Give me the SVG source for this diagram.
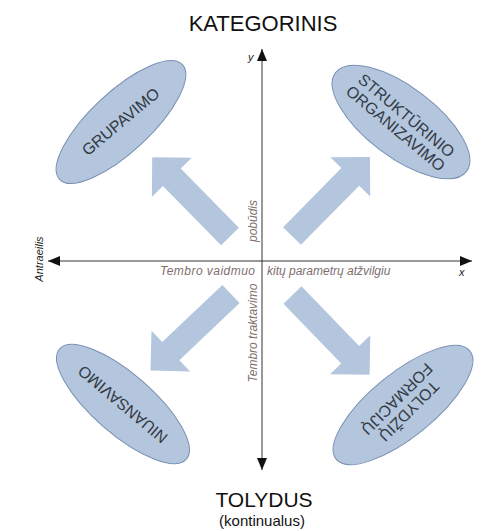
<svg xmlns="http://www.w3.org/2000/svg" width="484" height="531" viewBox="0 0 484 531">
  <style>
    .title { font-family: "Liberation Sans", Arial, sans-serif; fill: #111; }
    .oval { fill: #b4c6dd; stroke: #7890b2; stroke-width: 1; }
    .oval-text { font-family: "Liberation Sans", Arial, sans-serif; font-size: 16px; fill: #333a44; text-anchor: middle; }
    .block { fill: #b4c6dd; }
    .axis { stroke: #333; stroke-width: 1; fill: none; }
    .axis-note { font-family: "Liberation Sans", Arial, sans-serif; font-size: 12px; font-style: italic; fill: #7d6e6e; }
    .axis-name { font-family: "Liberation Sans", Arial, sans-serif; font-size: 11px; font-style: italic; fill: #222; }
  </style>
  <defs>
    <marker id="tip" viewBox="0 0 12 10" refX="12" refY="5" markerWidth="12" markerHeight="10" markerUnits="userSpaceOnUse" orient="auto-start-reverse">
      <path d="M0,0 L12,5 L0,10 z" fill="#111"/>
    </marker>
    <!-- block arrow, tail at origin, pointing along +x -->
    <path id="block-arrow" d="M0,-12.5 L83,-12.5 L83,-28 L111,0 L83,28 L83,12.5 L0,12.5 z"/>
  </defs>

  <rect width="484" height="531" fill="#fff"/>

  <!-- headings -->
  <g id="heading-top">
    <text class="title" x="263" y="31" font-size="22" text-anchor="middle">KATEGORINIS</text>
  </g>
  <g id="heading-bottom">
    <text class="title" x="264" y="507" font-size="21" text-anchor="middle">TOLYDUS</text>
    <text class="title" x="262" y="526" font-size="15" text-anchor="middle">(kontinualus)</text>
  </g>

  <!-- axes and block arrows -->
  <g id="connectors">
    <line class="axis" x1="48" y1="261" x2="472" y2="261" marker-start="url(#tip)" marker-end="url(#tip)"/>
    <line class="axis" x1="262" y1="470" x2="262" y2="49" marker-start="url(#tip)" marker-end="url(#tip)"/>
    <use href="#block-arrow" class="block" transform="translate(230,236.5) rotate(-134.5)"/>
    <use href="#block-arrow" class="block" transform="translate(292,236) rotate(-45.4)"/>
    <use href="#block-arrow" class="block" transform="translate(231,294) rotate(136.5)"/>
    <use href="#block-arrow" class="block" transform="translate(292.5,295) rotate(46)"/>
  </g>

  <!-- axis labels -->
  <g id="axis-labels">
    <text class="axis-name" x="248" y="61">y</text>
    <text class="axis-name" x="459" y="276">x</text>
    <text class="axis-name" transform="translate(43,259) rotate(-90)" text-anchor="middle" font-size="10.5">Antraeilis</text>
    <text class="axis-note" x="255" y="275" text-anchor="end" textLength="95">Tembro vaidmuo</text>
    <text class="axis-note" x="267" y="275">kitų parametrų atžvilgiu</text>
    <text class="axis-note" transform="translate(256.5,221) rotate(-90)" text-anchor="middle" font-size="12.5">pobūdis</text>
    <text class="axis-note" transform="translate(256.5,333) rotate(-90)" text-anchor="middle">Tembro traktavimo</text>
  </g>

  <g id="grupavimo">
    <ellipse class="oval" cx="0" cy="0" rx="84" ry="30" transform="translate(121,122) rotate(-43)"/>
    <text class="oval-text" transform="translate(121,122) rotate(-40)" y="5">GRUPAVIMO</text>
  </g>

  <g id="strukturinio-organizavimo">
    <ellipse class="oval" cx="0" cy="0" rx="82" ry="35" transform="translate(401,122) rotate(37)"/>
    <text class="oval-text" transform="translate(401,122) rotate(40)"><tspan x="0" y="-3">STRUKTŪRINIO</tspan><tspan x="0" y="14">ORGANIZAVIMO</tspan></text>
  </g>

  <g id="niuansavimo">
    <ellipse class="oval" cx="0" cy="0" rx="84" ry="30" transform="translate(123,404) rotate(41)"/>
    <text class="oval-text" transform="translate(123,404) rotate(-140)" y="5">NIUANSAVIMO</text>
  </g>

  <g id="tolydziu-formaciju">
    <ellipse class="oval" cx="0" cy="0" rx="86" ry="32" transform="translate(403,405) rotate(-39)"/>
    <text class="oval-text" transform="translate(403,405) rotate(135)"><tspan x="0" y="-3">TOLYDŽIŲ</tspan><tspan x="0" y="14">FORMACIJŲ</tspan></text>
  </g>
</svg>
